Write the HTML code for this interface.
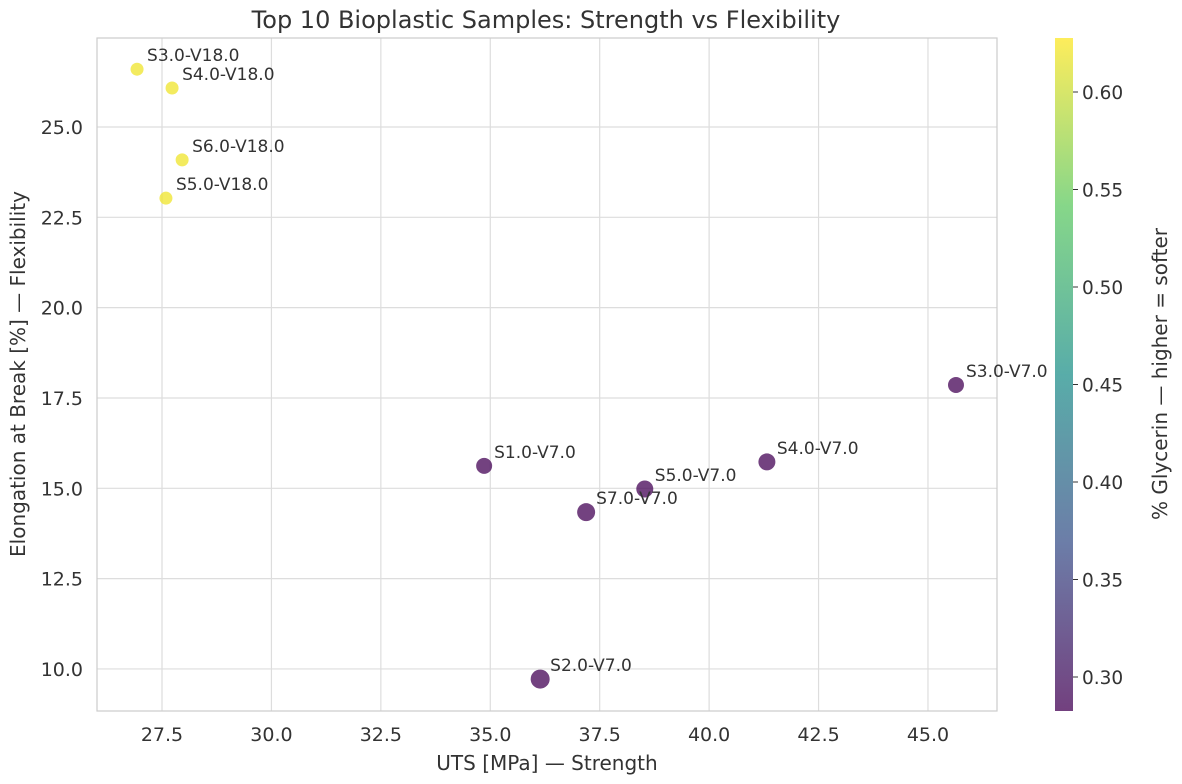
<!DOCTYPE html>
<html><head><meta charset="utf-8"><style>
body{margin:0;background:#fff;font-family:"DejaVu Sans","Liberation Sans",sans-serif;}
svg text{fill:#333;font-family:"DejaVu Sans","Liberation Sans",sans-serif;}
</style></head><body>
<svg id="chart" width="1182" height="780" xmlns="http://www.w3.org/2000/svg">
<defs><linearGradient id="vir" x1="0" y1="1" x2="0" y2="0">
<stop offset="0" stop-color="#440154"/><stop offset="0.25" stop-color="#3b528b"/><stop offset="0.5" stop-color="#21918c"/><stop offset="0.75" stop-color="#5ec962"/><stop offset="1" stop-color="#fde725"/></linearGradient></defs>
<text x="546" y="28" text-anchor="middle" font-size="24">Top 10 Bioplastic Samples: Strength vs Flexibility</text>
<g id="grid"></g>
<rect x="97" y="38" width="900" height="673" fill="none" stroke="#ccc" stroke-width="1.2"/>
<g id="points"></g>
<text x="547" y="770" text-anchor="middle" font-size="20">UTS [MPa] — Strength</text>
<text transform="translate(25,374) rotate(-90)" text-anchor="middle" font-size="20">Elongation at Break [%] — Flexibility</text>
<rect x="1055" y="38" width="18" height="673" fill="url(#vir)" opacity="0.75"/>
<g id="cbticks"></g>
<text transform="translate(1167,374) rotate(-90)" text-anchor="middle" font-size="20">% Glycerin — higher = softer</text>
</svg>
<script>
const labels=["S3.0-V18.0","S4.0-V18.0","S6.0-V18.0","S5.0-V18.0","S3.0-V7.0","S1.0-V7.0","S4.0-V7.0","S5.0-V7.0","S7.0-V7.0","S2.0-V7.0"];
const uts=[26.93,27.73,27.96,27.59,45.64,34.86,41.32,38.53,37.19,36.14];
const elong=[26.6,26.08,24.09,23.03,17.86,15.62,15.73,14.98,14.34,9.72];
const glycerin=[0.62,0.62,0.62,0.62,0.285,0.285,0.285,0.285,0.285,0.285];
const sizes=[6.5,6.5,6.5,6.5,8,8,8.5,8.5,9,9.5];
const xTicks=[27.5,30.0,32.5,35.0,37.5,40.0,42.5,45.0];
const yTicks=[10.0,12.5,15.0,17.5,20.0,22.5,25.0];
const cTicks=[0.30,0.35,0.40,0.45,0.50,0.55,0.60];
const NS="http://www.w3.org/2000/svg";
const X=v=>162+(v-27.5)*43.77;
const Y=v=>127-(v-25)*36.13;
const C=v=>92+(0.60-v)*1950;
function mk(t,a,p){const e=document.createElementNS(NS,t);for(const k in a)e.setAttribute(k,a[k]);p.appendChild(e);return e;}
const grid=document.getElementById('grid');
xTicks.forEach(t=>{const x=X(t);
 const l=mk('line',{x1:x,x2:x,y1:38,y2:711,stroke:'#ddd','stroke-width':1.2},grid);
 
 const s=mk('text',{x:x,y:741,'text-anchor':'middle','font-size':19},grid);s.textContent=t.toFixed(1);
 });
yTicks.forEach(t=>{const y=Y(t);
 const l=mk('line',{x1:97,x2:997,y1:y,y2:y,stroke:'#ddd','stroke-width':1.2},grid);
 
 const s=mk('text',{x:83,y:y+7,'text-anchor':'end','font-size':19},grid);s.textContent=t.toFixed(1);
 });
function vir(v){const t=(v-0.2826)/(0.6277-0.2826);
 const st=[[68,1,84],[59,82,139],[33,145,140],[94,201,98],[253,231,37]];
 const f=Math.max(0,Math.min(1,t))*4,i=Math.min(3,Math.floor(f)),r=f-i;
 return 'rgb('+st[i].map((c,k)=>Math.round(c+(st[i+1][k]-c)*r)).join(',')+')';}
const pts=document.getElementById('points');
labels.forEach((lab,i)=>{const x=X(uts[i]),y=Y(elong[i]);
 const c=mk('circle',{cx:x,cy:y,r:sizes[i],fill:vir(glycerin[i]),'fill-opacity':0.75},pts);
 
 
 const s=mk('text',{x:x+10,y:y-8,'font-size':17},pts);s.textContent=lab;
 });
const cb=document.getElementById('cbticks');
cTicks.forEach(t=>{const y=C(t);
 const l=mk('line',{x1:1073,x2:1078,y1:y,y2:y,stroke:'#333'},cb);
 
 const s=mk('text',{x:1082,y:y+7,'font-size':18.5},cb);s.textContent=t.toFixed(2);
 });
</script>
</body></html>
